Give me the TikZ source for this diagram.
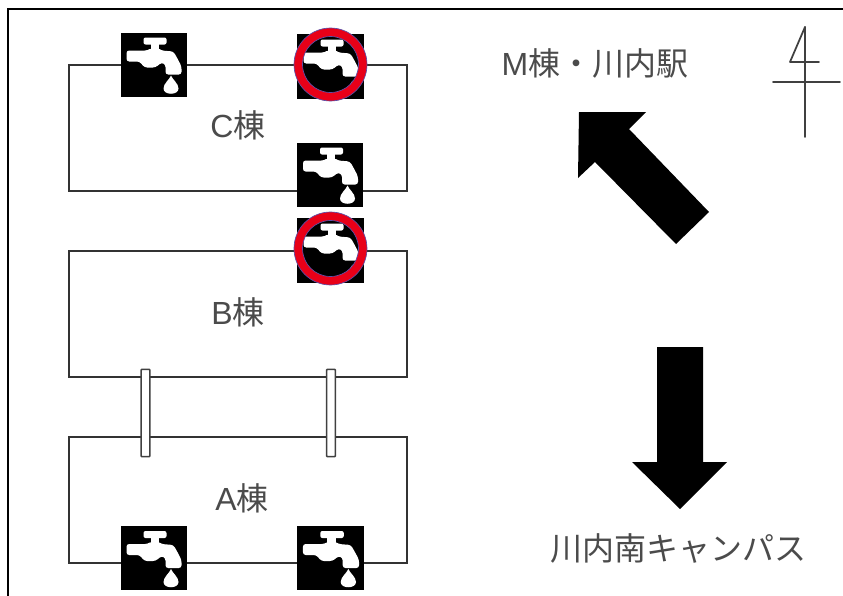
\documentclass[tikz,border=0pt]{standalone}
\usepackage{fontspec}
\setmainfont{Liberation Sans}
\newfontfamily\cjk{Noto Sans CJK JP}
\definecolor{lbl}{RGB}{75,75,75}
\definecolor{ringred}{RGB}{232,0,24}
\definecolor{ringedge}{RGB}{90,80,170}
\newcommand{\faucetbody}{%
    \fill[white,rounded corners=1.5pt] (-10,-27) rectangle (13,-20);
    \fill[white] (-3,-24) rectangle (5,-12);
    \fill[white,rounded corners=2pt] (-27,-14) -- (-6,-14) -- (-3,-16) -- (5,-16) -- (8,-14) -- (20,-13) -- (25,-4) -- (28,2) -- (28,10) -- (12,10) -- (12,0) -- (8,-2) -- (2,3) -- (-9,3) -- (-14,-3) -- (-27,-3) -- cycle;
}
\tikzset{
  x=0.75pt,y=-0.75pt,
  building/.style={draw=black!80,line width=1.1pt,fill=white,minimum width=253.5pt,minimum height=94.5pt,inner sep=0pt},
  bridge/.style={draw=black!75,line width=1.2pt,fill=white,rounded corners=0.6pt,minimum width=6.5pt,minimum height=65.5pt,inner sep=0pt},
  lbl/.style={text=lbl,font=\fontsize{24}{28}\selectfont,inner sep=0pt},
  bigarrow/.style={fill=black,draw=none},
  north/.style={draw=black!75,line width=1.3pt,line cap=round,line join=round},
  pics/faucet/.style={code={
    \fill[black] (-33,-32) rectangle (33,32);
    \faucetbody
    \fill[white] (17.5,11) .. controls (19,15) and (25,19) .. (25,24) .. controls (25,31) and (10,31) .. (10,24) .. controls (10,19) and (16,15) .. (17.5,11) -- cycle;
  }},
  pics/faucetcut/.style={code={
    \fill[black] (-33.5,-32.5) rectangle (33.5,32.5);
    \faucetbody
    \fill[white] (19,19) -- (22,14) -- (20,24) -- (16,27) -- cycle;
    \draw[draw=ringedge,line width=0.5pt,fill=ringred,even odd rule] (0,-2) circle (36.5) (0,-2) circle (28);
  }}
}
\begin{document}
\begin{tikzpicture}
\useasboundingbox (0,0) rectangle (843,596);
\fill[white] (0,0) rectangle (843,596);
\draw[black,line width=1.6pt] (8,600) -- (8,9) -- (843,9);
% buildings
\node[building] (C) at (238,128) {};
\node[building] (B) at (238,314) {};
\node[building] (A) at (238,500) {};
\node[lbl] (Cl) at (238,125) {C\cjk 棟};
\node[lbl] (Bl) at (238,312) {B\cjk 棟};
\node[lbl] (Al) at (242,498) {A\cjk 棟};
% bridges
\node[bridge] (b1) at (145.5,413) {};
\node[bridge] (b2) at (331,413) {};
% faucets
\pic at (153.5,64.5) {faucet};
\pic at (330.5,66.5) {faucetcut};
\pic at (330,174.5) {faucet};
\pic at (330.5,250.5) {faucetcut};
\pic at (153.5,558) {faucet};
\pic[xscale=1.02] at (330.5,558) {faucet};
% arrows
\fill[bigarrow] (579,112) -- (646,112) -- (629,129) -- (709,212) -- (676,244) -- (595,162) -- (578,178) -- cycle;
\fill[bigarrow] (657,347) -- (703,347) -- (703,462) -- (727,462) -- (680,509) -- (632,462) -- (657,462) -- cycle;
% labels
\node[lbl] (M) at (595,63) {M\cjk 棟・川内駅};
\node[lbl] (S) at (678,548) {\cjk 川内南キャンパス};
% north
\draw[north] (805,27) -- (790,62) -- (819,62);
\draw[north] (805,27) -- (805,137);
\draw[north] (773,82) -- (840,82);
\end{tikzpicture}
\end{document}
